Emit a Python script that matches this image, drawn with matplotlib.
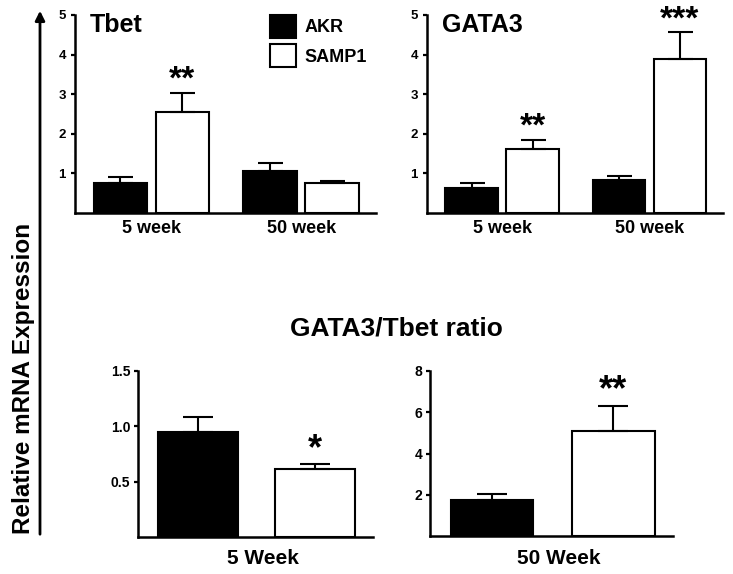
import numpy as np
import matplotlib
matplotlib.use('Agg')
import matplotlib.pyplot as plt
from matplotlib.patches import Patch, FancyArrowPatch

plt.rcParams['font.family'] = ['Liberation Sans', 'DejaVu Sans']
plt.rcParams['font.weight'] = 'bold'

# data
groups_top = ['5 week', '50 week']
tbet_akr = [0.77, 1.05]
tbet_akr_err = [0.15, 0.21]
tbet_samp = [2.54, 0.76]
tbet_samp_err = [0.50, 0.06]
tbet_stars = ['**', '']

gata_akr = [0.64, 0.83]
gata_akr_err = [0.12, 0.11]
gata_samp = [1.61, 3.90]
gata_samp_err = [0.24, 0.66]
gata_stars = ['**', '***']

ratio_groups = ['5 Week', '50 Week']
ratio5 = [0.95, 0.61]
ratio5_err = [0.13, 0.05]
ratio50 = [1.75, 5.11]
ratio50_err = [0.29, 1.20]
ratio_stars = ['*', '**']

W, H = 733, 574
fig = plt.figure(figsize=(W / 100, H / 100), dpi=100)


def px_axes(x0, x1, ytop, ybot):
    # axes placed from pixel edges of the reference
    return fig.add_axes([x0 / W, 1 - ybot / H, (x1 - x0) / W, (ybot - ytop) / H])


def style(ax, ticksize, pad):
    for s in ['top', 'right']:
        ax.spines[s].set_visible(False)
    for s in ['left', 'bottom']:
        ax.spines[s].set_linewidth(1.8)
    ax.tick_params(axis='y', length=3, width=1.6, labelsize=ticksize, pad=pad)
    ax.tick_params(axis='x', length=0)


def star(ax, x, top, txt, size=24):
    if txt:
        ax.annotate(txt, (x, top), xytext=(0, -2), textcoords='offset points',
                    ha='center', va='bottom', fontsize=size, fontweight='bold')


def top_panel(ax, akr, akr_err, samp, samp_err, stars, title):
    x = np.arange(len(groups_top))
    off, w = 0.207, 0.356
    ax.bar(x - off, akr, w, color='black', edgecolor='black', linewidth=1.5)
    ax.bar(x + off, samp, w, color='white', edgecolor='black', linewidth=1.5)
    ax.errorbar(x - off, akr, yerr=[np.zeros(len(x)), akr_err], fmt='none',
                ecolor='black', elinewidth=1.5, capsize=9, capthick=1.5)
    ax.errorbar(x + off, samp, yerr=[np.zeros(len(x)), samp_err], fmt='none',
                ecolor='black', elinewidth=1.5, capsize=9, capthick=1.5)
    for i in range(len(x)):
        star(ax, x[i] + off, samp[i] + samp_err[i], stars[i])
    ax.set_ylim(0, 5)
    ax.set_yticks([1, 2, 3, 4, 5])
    ax.set_xlim(-0.51, 1.50)
    ax.set_xticks(x, groups_top, fontsize=13, fontweight='bold')
    ax.tick_params(axis='x', pad=5)
    style(ax, 9.5, 3.5)
    ax.text(0.05, 0.914, title, transform=ax.transAxes, fontsize=18,
            fontweight='bold', va='baseline', ha='left')


ax1 = px_axes(75, 376, 15, 213)
top_panel(ax1, tbet_akr, tbet_akr_err, tbet_samp, tbet_samp_err, tbet_stars, 'Tbet')
handles = [Patch(facecolor='black', edgecolor='black', linewidth=1.5),
           Patch(facecolor='white', edgecolor='black', linewidth=1.5)]
ax1.legend(handles, ['AKR', 'SAMP1'], loc='upper left', bbox_to_anchor=(0.648, 1.0),
           frameon=False, borderpad=0, borderaxespad=0,
           handlelength=1.45, handleheight=1.55, handletextpad=0.45, labelspacing=0.38,
           prop={'weight': 'bold', 'size': 13})

ax2 = px_axes(427, 723, 15, 213)
top_panel(ax2, gata_akr, gata_akr_err, gata_samp, gata_samp_err, gata_stars, 'GATA3')


def bottom_panel(ax, vals, errs, stars, label, ylim, yticks, ylabels):
    x = np.arange(len(vals))
    w = 0.68
    ax.bar(x[0], vals[0], w, color='black', edgecolor='black', linewidth=1.5)
    ax.bar(x[1], vals[1], w, color='white', edgecolor='black', linewidth=1.5)
    ax.errorbar(x, vals, yerr=[np.zeros(len(x)), errs], fmt='none',
                ecolor='black', elinewidth=1.5, capsize=11, capthick=1.5)
    for i in range(len(x)):
        star(ax, x[i], vals[i] + errs[i], stars[i], size=26)
    ax.set_ylim(*ylim)
    ax.set_yticks(yticks, ylabels)
    ax.set_xlim(-0.51, 1.49)
    ax.set_xticks([0.55], [label], fontsize=15, fontweight='bold')
    ax.tick_params(axis='x', pad=9)
    style(ax, 10, 2.5)


ax3 = px_axes(138, 373, 371, 537)
bottom_panel(ax3, ratio5, ratio5_err, ['', ratio_stars[0]], ratio_groups[0],
             (0, 1.5), [0.5, 1.0, 1.5], ['0.5', '1.0', '1.5'])

ax4 = px_axes(430, 673, 371, 536)
bottom_panel(ax4, ratio50, ratio50_err, ['', ratio_stars[1]], ratio_groups[1],
             (0, 8), [2, 4, 6, 8], ['2', '4', '6', '8'])

fig.text(396 / W, 1 - 335 / H, 'GATA3/Tbet ratio', ha='center', va='baseline',
         fontsize=19, fontweight='bold')

# shared y label with the long arrow
fig.text(24 / W, 1 - 378 / H, 'Relative mRNA Expression', rotation=90,
         ha='center', va='center', fontsize=17.5, fontweight='bold')
arrow = FancyArrowPatch((40 / W, 1 - 537 / H), (40 / W, 1 - 8 / H),
                        transform=fig.transFigure, arrowstyle='-|>',
                        mutation_scale=14, linewidth=2, color='black')
fig.add_artist(arrow)

fig.savefig('out.png', dpi=100)
